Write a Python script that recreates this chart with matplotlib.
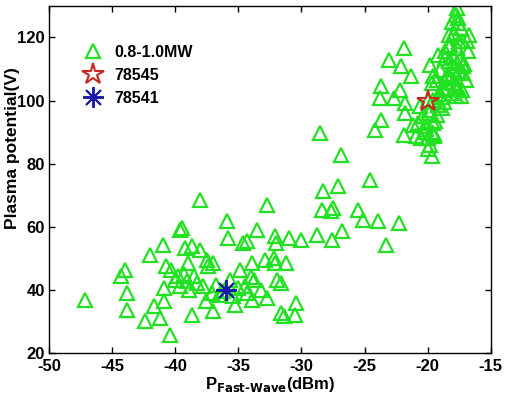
import matplotlib
matplotlib.use("Agg")
import matplotlib.pyplot as plt
from matplotlib.lines import Line2D

# 0.8-1.0MW shots: fast-wave power (dBm) vs plasma potential (V)
p_fw = [
    -47.15, -44.3, -44.0, -43.85, -43.85, -42.0, -42.4, -41.7, -41.2, -41.0,
    -40.9, -40.9, -40.4, -40.7, -40.3, -39.6, -39.5, -39.2, -39.0, -39.1,
    -40.0, -39.6, -38.7, -38.0, -38.0, -38.7, -38.3, -37.8, -37.5, -37.4,
    -37.0, -37.6, -37.0, -37.1, -35.9, -35.8, -35.4, -35.3, -35.7, -34.9,
    -34.6, -34.3, -34.5, -34.3, -33.9, -33.9, -33.8, -33.5, -32.75, -32.9,
    -32.75, -32.1, -32.0, -32.2, -32.1, -31.9, -31.6, -31.2, -31.6, -31.4,
    -31.0, -30.5, -30.4, -30.0, -28.8, -28.5, -28.3, -28.4, -27.6, -27.7,
    -27.5, -27.1, -26.9, -26.8, -25.5, -25.1, -24.6, -23.9, -23.3, -22.3,
    -39.3, -38.5, -36.8, -36.2, -35.0, -34.0, -33.2, -36.5, -39.8, -38.9,
    -24.2, -23.7, -23.7, -23.8, -23.1, -22.7, -21.9, -22.1, -22.2, -21.8,
    -21.8, -21.9, -21.3, -21.2, -20.9, -20.6, -20.5, -20.0, -19.8, -20.0,
    -19.7, -19.7, -19.6, -19.5, -19.3, -19.6, -19.0, -18.75, -18.6, -18.35,
    -18.5, -18.1, -18.0, -17.8, -17.7, -17.6, -17.4, -17.3, -17.7, -17.4,
    -17.2, -17.0, -16.9, -16.8, -17.4, -16.7, -18.1, -19.6, -20.4, -20.1,
    -19.9, -19.4, -19.2, -18.8, -18.3, -17.9, -17.5, -17.1, -18.6, -18.2,
    -17.9, -17.6, -19.1, -20.3, -20.8, -19.8, -18.9, -17.8, -17.3, -18.4,
    -18.0, -17.7, -17.5, -18.3, -17.9, -18.6, -18.2, -17.6, -19.3, -18.9,
    -19.7, -19.9, -20.2, -19.5, -18.7, -17.8, -17.2, -18.1, -19.2, -20.0,
]
v_plasma = [
    36.9, 44.3, 46.4, 39.0, 33.7, 51.2, 30.0, 34.8, 31.1, 54.3,
    40.6, 36.4, 25.8, 47.5, 46.4, 59.1, 59.6, 53.3, 48.5, 42.7,
    43.2, 41.1, 53.8, 52.8, 68.6, 32.1, 42.2, 41.1, 49.6, 47.5,
    48.5, 36.4, 33.2, 39.0, 61.7, 56.4, 38.0, 35.3, 43.2, 46.4,
    54.9, 55.4, 41.1, 39.0, 36.9, 48.5, 43.2, 59.1, 67.0, 49.6,
    37.4, 57.0, 54.9, 50.1, 48.5, 43.2, 42.2, 48.5, 32.7, 31.6,
    56.4, 32.1, 35.8, 55.9, 57.5, 89.7, 71.2, 65.4, 55.9, 64.9,
    66.0, 72.8, 82.9, 58.6, 65.4, 62.3, 74.9, 61.7, 54.3, 61.2,
    45.0, 44.5, 41.5, 39.5, 40.5, 44.0, 40.0, 38.5, 44.5, 40.0,
    90.8, 94.0, 104.5, 100.8, 113.0, 100.8, 116.7, 110.9, 103.5, 99.2,
    96.1, 89.2, 107.7, 92.4, 88.7, 98.2, 88.1, 100.3, 111.4, 84.5,
    82.3, 105.6, 92.9, 88.7, 95.5, 107.7, 109.8, 103.5, 115.7, 120.9,
    107.7, 110.9, 105.6, 101.4, 129.4, 126.2, 123.0, 118.8, 116.7, 113.5,
    108.7, 106.6, 118.8, 115.7, 101.4, 120.9, 102.4, 100.3, 95.0, 91.0,
    97.0, 93.5, 98.5, 104.0, 112.5, 110.0, 119.0, 111.5, 106.0, 117.5,
    121.5, 124.5, 102.0, 90.0, 93.0, 86.0, 97.5, 104.5, 103.5, 108.5,
    114.0, 112.0, 109.5, 117.0, 121.0, 113.5, 107.0, 104.0, 106.5, 101.0,
    90.0, 96.0, 92.0, 89.5, 99.5, 127.0, 111.0, 125.0, 114.5, 88.0,
]

shot_78545 = (-20.0, 100.0)
shot_78541 = (-36.0, 40.0)

green = "#22e022"
plt.rcParams["font.family"] = ["Liberation Sans", "DejaVu Sans"]
plt.rcParams["font.weight"] = "bold"
plt.rcParams["axes.unicode_minus"] = False

fig = plt.figure(figsize=(5.05, 3.94), dpi=100)
ax = fig.add_axes([0.097, 0.104, 0.875, 0.881])

ax.plot(p_fw, v_plasma, linestyle="none", marker="^", ms=10, mfc="none",
        mec=green, mew=1.6)
ax.plot(*shot_78545, linestyle="none", marker="*", ms=16, mfc="none",
        mec="#c8281e", mew=1.5)
ax.plot(*shot_78541, linestyle="none", marker=(8, 2, 0), ms=15,
        mec="#1a1aa8", mew=1.4)

ax.set_xlim(-50, -15)
ax.set_ylim(20, 130)
ax.set_xticks(range(-50, -14, 5))
ax.set_yticks(range(20, 121, 20))
ax.tick_params(direction="in", top=True, right=True, labelsize=12,
               length=4, width=1, pad=3)
ax.tick_params(axis="x", pad=4)
for s in ax.spines.values():
    s.set_linewidth(1.0)

ax.set_xlabel("P$_{\\mathbf{Fast\\text{-}Wave}}$(dBm)", fontsize=12,
              fontweight="bold")
ax.xaxis.set_label_coords(0.5, -0.064)
ax.set_ylabel("Plasma potential(V)", fontsize=12.5, fontweight="bold")
ax.yaxis.set_label_coords(-0.066, 0.59)

handles = [
    Line2D([], [], linestyle="none", marker="^", ms=10, mfc="none",
           mec=green, mew=1.6),
    Line2D([], [], linestyle="none", marker="*", ms=16, mfc="none",
           mec="#c8281e", mew=1.5),
    Line2D([], [], linestyle="none", marker=(8, 2, 0), ms=15,
           mec="#1a1aa8", mew=1.4),
]
ax.legend(handles, ["0.8-1.0MW", "78545", "78541"], loc="upper left",
          bbox_to_anchor=(0.04, 0.93), frameon=False, fontsize=11.5,
          handletextpad=0.6, labelspacing=0.5, handlelength=1.5)

fig.savefig("out.png", dpi=100)
